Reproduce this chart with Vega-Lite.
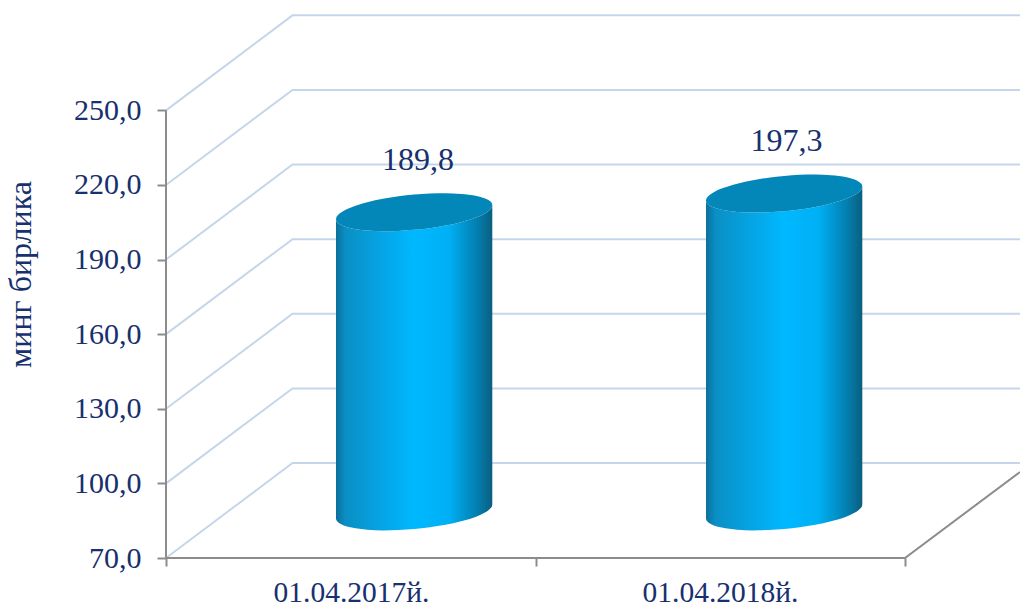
{
"$schema":"https://vega.github.io/schema/vega-lite/v6.json",
"width":854,"height":558,
"autosize":"none",
"padding":{"left":166,"top":0,"right":0,"bottom":47},
"background":"white",
"config":{"view":{"stroke":null}},
"datasets":{
"grid":[
{"level":70,"x":0,"v":70},{"level":70,"x":126.5,"v":108.2},{"level":70,"x":854,"v":108.2},
{"level":100,"x":0,"v":100},{"level":100,"x":126.5,"v":138.2},{"level":100,"x":854,"v":138.2},
{"level":130,"x":0,"v":130},{"level":130,"x":126.5,"v":168.2},{"level":130,"x":854,"v":168.2},
{"level":160,"x":0,"v":160},{"level":160,"x":126.5,"v":198.2},{"level":160,"x":854,"v":198.2},
{"level":190,"x":0,"v":190},{"level":190,"x":126.5,"v":228.2},{"level":190,"x":854,"v":228.2},
{"level":220,"x":0,"v":220},{"level":220,"x":126.5,"v":258.2},{"level":220,"x":854,"v":258.2},
{"level":250,"x":0,"v":250},{"level":250,"x":126.5,"v":288.2},{"level":250,"x":854,"v":288.2}
],
"floor":[
{"i":0,"x":0,"v":250},{"i":1,"x":0,"v":70},{"i":2,"x":739,"v":70},{"i":3,"x":854,"v":104.6}
],
"cyl":[
{"bar":"01.04.2017й.","x":170,"upper":206.22,"lower":206.22,"bottom":85.92},
{"bar":"01.04.2017й.","x":170.39,"upper":206.95,"lower":205.53,"bottom":85.23},
{"bar":"01.04.2017й.","x":171.56,"upper":207.69,"lower":204.87,"bottom":84.57},
{"bar":"01.04.2017й.","x":173.91,"upper":208.59,"lower":204.15,"bottom":83.85},
{"bar":"01.04.2017й.","x":177.82,"upper":209.61,"lower":203.41,"bottom":83.11},
{"bar":"01.04.2017й.","x":185.63,"upper":211.05,"lower":202.53,"bottom":82.23},
{"bar":"01.04.2017й.","x":201.26,"upper":213.03,"lower":201.67,"bottom":81.37},
{"bar":"01.04.2017й.","x":216.89,"upper":214.42,"lower":201.40,"bottom":81.10},
{"bar":"01.04.2017й.","x":232.52,"upper":215.44,"lower":201.52,"bottom":81.22},
{"bar":"01.04.2017й.","x":248.15,"upper":216.14,"lower":201.94,"bottom":81.64},
{"bar":"01.04.2017й.","x":263.78,"upper":216.56,"lower":202.64,"bottom":82.34},
{"bar":"01.04.2017й.","x":279.41,"upper":216.68,"lower":203.66,"bottom":83.36},
{"bar":"01.04.2017й.","x":295.04,"upper":216.41,"lower":205.05,"bottom":84.75},
{"bar":"01.04.2017й.","x":310.67,"upper":215.55,"lower":207.03,"bottom":86.73},
{"bar":"01.04.2017й.","x":318.49,"upper":214.67,"lower":208.47,"bottom":88.17},
{"bar":"01.04.2017й.","x":322.39,"upper":213.93,"lower":209.49,"bottom":89.19},
{"bar":"01.04.2017й.","x":324.74,"upper":213.21,"lower":210.39,"bottom":90.09},
{"bar":"01.04.2017й.","x":325.91,"upper":212.55,"lower":211.13,"bottom":90.83},
{"bar":"01.04.2017й.","x":326.3,"upper":211.86,"lower":211.86,"bottom":91.56},
{"bar":"01.04.2018й.","x":540,"upper":213.72,"lower":213.72,"bottom":85.92},
{"bar":"01.04.2018й.","x":540.39,"upper":214.45,"lower":213.03,"bottom":85.23},
{"bar":"01.04.2018й.","x":541.56,"upper":215.19,"lower":212.37,"bottom":84.57},
{"bar":"01.04.2018й.","x":543.91,"upper":216.09,"lower":211.65,"bottom":83.85},
{"bar":"01.04.2018й.","x":547.82,"upper":217.11,"lower":210.91,"bottom":83.11},
{"bar":"01.04.2018й.","x":555.63,"upper":218.55,"lower":210.03,"bottom":82.23},
{"bar":"01.04.2018й.","x":571.26,"upper":220.53,"lower":209.17,"bottom":81.37},
{"bar":"01.04.2018й.","x":586.89,"upper":221.92,"lower":208.90,"bottom":81.10},
{"bar":"01.04.2018й.","x":602.52,"upper":222.94,"lower":209.02,"bottom":81.22},
{"bar":"01.04.2018й.","x":618.15,"upper":223.64,"lower":209.44,"bottom":81.64},
{"bar":"01.04.2018й.","x":633.78,"upper":224.06,"lower":210.14,"bottom":82.34},
{"bar":"01.04.2018й.","x":649.41,"upper":224.18,"lower":211.16,"bottom":83.36},
{"bar":"01.04.2018й.","x":665.04,"upper":223.91,"lower":212.55,"bottom":84.75},
{"bar":"01.04.2018й.","x":680.67,"upper":223.05,"lower":214.53,"bottom":86.73},
{"bar":"01.04.2018й.","x":688.49,"upper":222.17,"lower":215.97,"bottom":88.17},
{"bar":"01.04.2018й.","x":692.39,"upper":221.43,"lower":216.99,"bottom":89.19},
{"bar":"01.04.2018й.","x":694.74,"upper":220.71,"lower":217.89,"bottom":90.09},
{"bar":"01.04.2018й.","x":695.91,"upper":220.05,"lower":218.63,"bottom":90.83},
{"bar":"01.04.2018й.","x":696.3,"upper":219.36,"lower":219.36,"bottom":91.56}
],
"values":[
{"date":"01.04.2017й.","x":252,"value":189.8,"label":"189,8"},
{"date":"01.04.2018й.","x":620.5,"value":197.3,"label":"197,3"}
]
},
"layer":[
{"data":{"name":"grid"},
 "mark":{"type":"line","stroke":"#c6d6ea","strokeWidth":2},
 "encoding":{
  "detail":{"field":"level"},
  "x":{"field":"x","type":"quantitative","title":null,"scale":{"domain":[0,854],"nice":false,"zero":false},
   "axis":{"values":[0,185,369.5,554,739],"domain":false,"grid":false,"tickSize":8,"tickWidth":2,"tickColor":"#8c8c8c",
    "tickOpacity":{"condition":{"test":"datum.value==185||datum.value==554","value":0},"value":1},
    "labelExpr":"datum.value==185?'01.04.2017й.':datum.value==554?'01.04.2018й.':''",
    "labelFont":"Liberation Serif","labelFontSize":29.5,"labelColor":"#17306e","labelPadding":12,"labelOverlap":false,"labelBound":false,"labelFlush":false}},
  "y":{"field":"v","type":"quantitative","title":"минг бирлика","scale":{"domain":[70,294.37],"nice":false,"zero":false},
   "axis":{"values":[70,100,130,160,190,220,250],"domain":false,"grid":false,"tickSize":9,"tickWidth":2,"tickColor":"#8c8c8c",
    "labelExpr":"replace(format(datum.value,'.1f'),'.',',')",
    "labelFont":"Liberation Serif","labelFontSize":30,"labelColor":"#17306e","labelPadding":16,"labelOverlap":false,"labelBound":false,
    "titleFont":"Liberation Serif","titleFontSize":32,"titleFontWeight":"normal","titleColor":"#17306e","titleX":-146,"titleY":274,"titleAngle":-90,"titleAlign":"center","titleBaseline":"middle"}}
 }},
{"data":{"name":"floor"},
 "mark":{"type":"line","stroke":"#8c8c8c","strokeWidth":2},
 "encoding":{
  "order":{"field":"i"},
  "x":{"field":"x","type":"quantitative","title":null,"scale":{"domain":[0,854],"nice":false,"zero":false}},
  "y":{"field":"v","type":"quantitative","title":"минг бирлика","scale":{"domain":[70,294.37],"nice":false,"zero":false}}
 }},
{"data":{"name":"cyl"},
 "mark":{"type":"area","interpolate":"monotone","fill":{"gradient":"linear","x1":0,"y1":0,"x2":1,"y2":0,"stops":[
   {"offset":0,"color":"#0b6f9b"},{"offset":0.06,"color":"#0a8fc4"},{"offset":0.3,"color":"#05a5e6"},{"offset":0.5,"color":"#00b8ff"},{"offset":0.72,"color":"#00b0f5"},{"offset":0.9,"color":"#037fb0"},{"offset":1,"color":"#0a5f80"}]}},
 "encoding":{
  "detail":{"field":"bar"},
  "x":{"field":"x","type":"quantitative","title":null,"scale":{"domain":[0,854],"nice":false,"zero":false}},
  "y":{"field":"lower","type":"quantitative","title":"минг бирлика","scale":{"domain":[70,294.37],"nice":false,"zero":false}},
  "y2":{"field":"bottom"}
 }},
{"data":{"name":"cyl"},
 "mark":{"type":"area","interpolate":"monotone","fill":"#0387b8"},
 "encoding":{
  "detail":{"field":"bar"},
  "x":{"field":"x","type":"quantitative","title":null,"scale":{"domain":[0,854],"nice":false,"zero":false}},
  "y":{"field":"upper","type":"quantitative","title":"минг бирлика","scale":{"domain":[70,294.37],"nice":false,"zero":false}},
  "y2":{"field":"lower"}
 }},
{"data":{"name":"values"},
 "mark":{"type":"text","font":"Liberation Serif","fontSize":32,"color":"#17306e","dy":-100,"baseline":"middle","align":"center"},
 "encoding":{
  "x":{"field":"x","type":"quantitative","title":null,"scale":{"domain":[0,854],"nice":false,"zero":false}},
  "y":{"field":"value","type":"quantitative","title":"минг бирлика","scale":{"domain":[70,294.37],"nice":false,"zero":false}},
  "text":{"field":"label"}
 }}
]
}
